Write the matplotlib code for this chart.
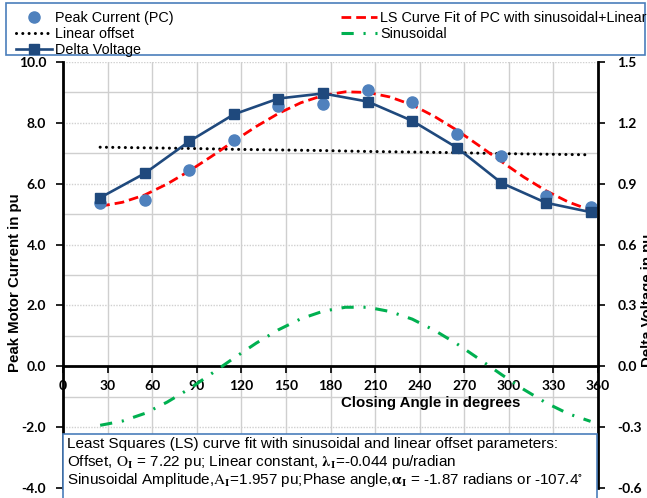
import matplotlib
matplotlib.use("Agg")
import matplotlib.pyplot as plt
import numpy as np
from matplotlib.patches import Rectangle
from matplotlib.ticker import MultipleLocator, FormatStrFormatter

# closing angle of the measured points (degrees)
angle = [25, 55, 85, 115, 145, 175, 205, 235, 265, 295, 325, 355]
peak_current = [5.35, 5.46, 6.45, 7.45, 8.55, 8.61, 9.08, 8.70, 7.63, 6.90, 5.59, 5.24]
delta_voltage = [0.831, 0.951, 1.109, 1.242, 1.320, 1.345, 1.305, 1.210, 1.078, 0.904, 0.806, 0.760]
linear_offset = [7.20, 7.18, 7.16, 7.13, 7.11, 7.09, 7.06, 7.04, 7.02, 6.99, 6.97, 6.95]

# fitted curve and its sinusoidal part, read every 15 degrees
fit_angle = [25, 40, 55, 70, 85, 100, 115, 130, 145, 160, 175, 190,
             205, 220, 235, 250, 265, 280, 295, 310, 325, 340, 355]
ls_fit = [5.26, 5.39, 5.63, 5.99, 6.42, 6.90, 7.40, 7.88, 8.31, 8.66, 8.90, 9.02,
          9.00, 8.85, 8.59, 8.21, 7.76, 7.25, 6.73, 6.22, 5.77, 5.40, 5.13]
sinusoid = [-1.94, -1.80, -1.55, -1.18, -0.74, -0.24, 0.27, 0.76, 1.20, 1.56, 1.81, 1.94,
            1.94, 1.80, 1.55, 1.18, 0.74, 0.24, -0.27, -0.76, -1.20, -1.56, -1.81]

note_lines = [
    "Least Squares (LS) curve fit with sinusoidal and linear offset parameters:",
    r"Offset, $\mathrm{O}_{\mathbf{I}}$ = 7.22 pu; Linear constant, $\mathbf{\lambda}_{\mathbf{I}}$=-0.044 pu/radian",
    r"Sinusoidal Amplitude,$\mathrm{A}_{\mathbf{I}}$=1.957 pu;Phase angle,$\mathbf{\alpha}_{\mathbf{I}}$ = -1.87 radians or -107.4$^{\circ}$",
]

plt.rcParams['font.family'] = ['Liberation Sans', 'DejaVu Sans']
plt.rcParams['mathtext.fontset'] = 'stix'

W, H = 647, 498
fig = plt.figure(figsize=(W / 100, H / 100), dpi=100)
ax = fig.add_axes([63 / W, 1 - 488 / H, 535 / W, 426 / H])
ax2 = ax.twinx()

pc_color = '#4F81BD'
dv_color = '#1F497D'

# primary axis series
ax.plot(angle, linear_offset, color='black', lw=2.2, linestyle=(0, (0.01, 2.05)),
        dash_capstyle='round', label='Linear offset', zorder=3)
ax.plot(fit_angle, sinusoid, color='#00B050', lw=2.2, linestyle=(0, (4, 3.2, 0.7, 3.2)),
        label='Sinusoidal', zorder=3)
ax.plot(fit_angle, ls_fit, color='#FF0000', lw=2, linestyle=(0, (3.5, 1.8)),
        label='LS Curve Fit of PC with sinusoidal+Linear', zorder=4)
ax.plot(angle, peak_current, 'o', color=pc_color, ms=8, label='Peak Current (PC)', zorder=5)

# secondary axis series
ax2.plot(angle, delta_voltage, '-s', color=dv_color, lw=1.9, ms=6.5, label='Delta Voltage')

ax.set_xlim(0, 360)
ax.set_ylim(-4, 10)
ax2.set_ylim(-0.6, 1.5)
ax.xaxis.set_major_locator(MultipleLocator(30))
ax.yaxis.set_major_locator(MultipleLocator(2))
ax.yaxis.set_minor_locator(MultipleLocator(1))
ax.yaxis.set_major_formatter(FormatStrFormatter('%.1f'))
ax2.yaxis.set_major_locator(MultipleLocator(0.3))
ax2.yaxis.set_major_formatter(FormatStrFormatter('%.1f'))

ax.grid(True, axis='x', color='#CFCFCF', lw=1)
ax.grid(True, axis='y', which='major', color='#D0D0D0', lw=1, linestyle=(0, (1, 1)))
ax.grid(True, axis='y', which='minor', color='#CFCFCF', lw=1)
ax.set_axisbelow(True)

ax.spines['bottom'].set_position(('data', 0))
ax.spines['top'].set_visible(False)
ax.spines['right'].set_visible(False)
for s in ['top', 'bottom', 'left']:
    ax2.spines[s].set_visible(False)
ax.spines['left'].set_linewidth(2)
ax.spines['bottom'].set_linewidth(2)
ax2.spines['right'].set_linewidth(2)

tick_font = dict(family='Lato', weight='bold', size=10)
ax.tick_params(axis='y', which='major', direction='out', length=5, width=1.2, pad=7)
ax.tick_params(axis='y', which='minor', length=0)
ax.tick_params(axis='x', direction='out', length=5, width=1.2, pad=5)
ax2.tick_params(axis='y', direction='out', length=5, width=1.2, pad=9)
for lab in ax.get_xticklabels() + ax.get_yticklabels() + ax2.get_yticklabels():
    lab.set_fontproperties(tick_font)

label_font = dict(fontsize=10.8, fontweight='bold')
fig.text(15 / W, 1 - 283 / H, 'Peak Motor Current in pu', rotation=90,
         ha='center', va='center', **label_font)
fig.text(648 / W, 1 - 300 / H, 'Delta Voltage in pu', rotation=90,
         ha='center', va='center', **label_font)
fig.text(431 / W, 1 - 396 / H, 'Closing Angle in degrees', ha='center', va='top', **label_font)

# legend across the top
frame_color = '#4A7EBB'
fig.add_artist(Rectangle((6 / W, 1 - 55 / H), 639 / W, 52 / H, transform=fig.transFigure,
                         facecolor='white', edgecolor=frame_color, lw=1.2, zorder=1))
h1, l1 = ax.get_legend_handles_labels()
h2, l2 = ax2.get_legend_handles_labels()
hd = dict(zip(l1 + l2, h1 + h2))
order = ['Peak Current (PC)', 'Linear offset', 'Delta Voltage',
         'LS Curve Fit of PC with sinusoidal+Linear', 'Sinusoidal']
leg = fig.legend([hd[k] for k in order], order, ncol=2, loc='upper left',
                 bbox_to_anchor=(16 / W, 1 - 11 / H), frameon=False, fontsize=10.4,
                 handlelength=2.5, handletextpad=0.2, labelspacing=0.13,
                 columnspacing=11.6, numpoints=1, borderpad=0, borderaxespad=0)
leg.set_zorder(2)

# note box at the bottom
fig.add_artist(Rectangle((63 / W, -2 / H), 534 / W, (2 + 498 - 434) / H, transform=fig.transFigure,
                         facecolor='white', edgecolor=frame_color, lw=1.2, zorder=5))
for i, line in enumerate(note_lines):
    t = fig.text(67 / W, 1 - (444 + 18 * i) / H, line, ha='left', va='center', fontsize=11)
    t.set_zorder(6)

fig.savefig('out.png', dpi=100)
